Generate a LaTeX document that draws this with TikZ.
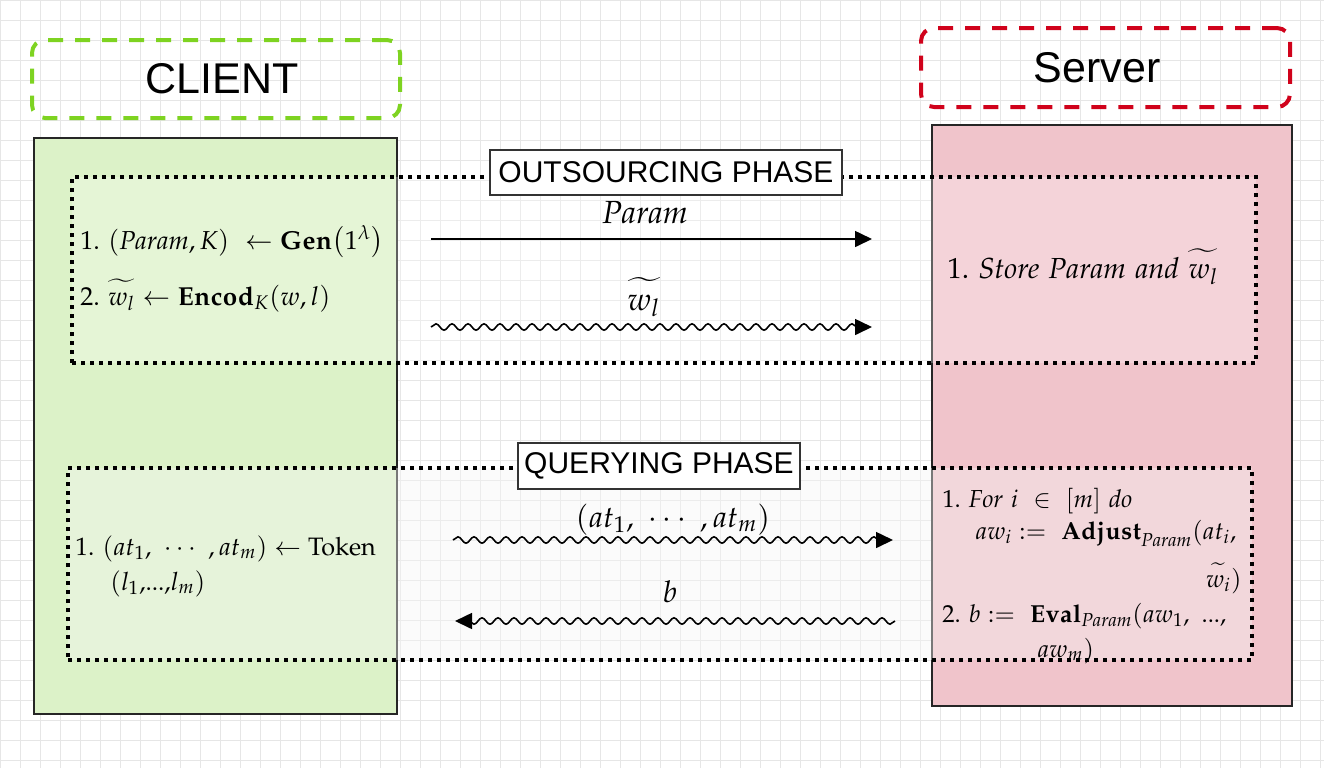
\documentclass[tikz,border=0pt]{standalone}
\usepackage{mathpazo}
\usepackage[no-math]{fontspec}
\newfontfamily\helvfont{Liberation Sans}
\usetikzlibrary{arrows.meta,decorations.pathmorphing}
\definecolor{clientgreen}{HTML}{7ED321}
\definecolor{serverred}{HTML}{D0021B}
\definecolor{clientfill}{HTML}{DCF2C8}
\definecolor{serverfill}{HTML}{F0C4CB}
\definecolor{gridgray}{HTML}{E6E6E6}
\newcommand{\wt}[1]{\widetilde{\vphantom{b}#1}}

\begin{document}
\begin{tikzpicture}[x=0.5pt,y=-0.5pt,
  gridline/.style={draw=gridgray,line width=0.5pt},
  lane/.style={draw=black!85,line width=1pt,inner sep=0},
  partybox/.style={draw,rounded corners=6.5pt,line width=2pt,dash pattern=on 7.5pt off 6pt,inner sep=0},
  partyname/.style={inner sep=0,font=\helvfont\fontsize{21.5}{24}\selectfont},
  phase/.style={draw=black,line width=1.8pt,dash pattern=on 1.8pt off 2.7pt,inner sep=0},
  phasetag/.style={draw=black!80,fill=white,line width=0.8pt,inner sep=0,font=\helvfont\fontsize{15}{17}\selectfont},
  steptext/.style={inner sep=0,anchor=base west},
  msg/.style={line width=0.8pt,-{Triangle[length=8.5pt,width=8pt]}},
  wavy/.style={msg,decorate,decoration={snake,amplitude=1.6pt,segment length=8pt,post length=5pt}}]
\newcommand{\fs}[1]{\fontsize{#1}{#1}\selectfont}
\useasboundingbox (0,0) rectangle (1324,768);
\foreach \gx in {0,20,...,1320} \draw[gridline] (\gx,0) -- (\gx,768);
\foreach \gy in {0,20,...,760} \draw[gridline] (0,\gy) -- (1324,\gy);

\node[lane,fill=clientfill,minimum width=181.5pt,minimum height=288pt] (client) at (215.5,426) {};
\node[lane,fill=serverfill,minimum width=180pt,minimum height=290.5pt] (server) at (1112,415.5) {};
\node[partybox,draw=clientgreen,minimum width=184pt,minimum height=39pt] (clienttag) at (216,79) {};
\node[partybox,draw=serverred,minimum width=184.5pt,minimum height=39.5pt] (servertag) at (1105.5,67.5) {};
\node[partyname] (clientname) at (222,79) {CLIENT};
\node[partyname] (servername) at (1097,68) {Server};

\node[phase,fill=white,fill opacity=0.27,minimum width=592pt,minimum height=93pt] (outsrc) at (664,270) {};
\node[phase,fill=black!4,fill opacity=0.4,minimum width=592pt,minimum height=96pt] (query) at (660,564) {};
\node[phasetag,minimum width=176pt,minimum height=22.5pt] (outsrctag) at (666,172.5) {OUTSOURCING PHASE};
\node[phasetag,minimum width=141pt,minimum height=23pt] (querytag) at (659,466) {QUERYING PHASE};

\node[steptext,font=\fs{13}] (gen) at (80,249) {$1.\ (\mathit{Param},K)\ \leftarrow\mathbf{Gen}\bigl(1^{\lambda}\bigr)$};
\node[steptext,font=\fs{13}] (encod) at (80,305) {$2.\ \wt{w_l}\leftarrow\mathbf{Encod}_K(w,l)$};
\node[steptext,font=\fs{14.5}] (store) at (947,278) {$1.\ \mathit{Store}\ \mathit{Param}\ \mathit{and}\ \wt{w_l}$};
\node[steptext,font=\fs{12.6}] (token) at (75,555) {$1.\ (at_1,\ \cdots\ ,at_m)\leftarrow\mathrm{Token}$};
\node[steptext,font=\fs{12.6}] (tokenargs) at (110,590) {$(l_1{,}...{,}l_m)$};
\node[steptext,font=\fs{12.3}] (forloop) at (942,507) {$1.\ \mathit{For}\ i\ \in\ [m]\ \mathit{do}$};
\node[steptext,font=\fs{12.3}] (adjust) at (975,539) {$aw_i\mathrel{:=}\ \mathbf{Adjust}_{\mathit{Param}}(at_i,$};
\node[inner sep=0,anchor=base east,font=\fs{12.3}] (adjustend) at (1242,587) {$\wt{w_i})$};
\node[steptext,font=\fs{12.3}] (eval) at (942,622) {$2.\ b\mathrel{:=}\ \mathbf{Eval}_{\mathit{Param}}(aw_1,\ ...,$};
\node[steptext,font=\fs{12.3}] (evalend) at (1037,657) {$aw_m)$};

\coordinate (p1) at (431,239);
\coordinate (p2) at (872,239);
\coordinate (w1) at (431,327);
\coordinate (w2) at (872,327);
\coordinate (q1) at (453,540);
\coordinate (q2) at (893,540);
\coordinate (r1) at (895,621);
\coordinate (r2) at (455,621);
\node[inner sep=0,anchor=base,font=\fs{16}] (paramlbl) at (645,223) {$\mathit{Param}$};
\node[inner sep=0,anchor=base,font=\fs{16}] (wlbl) at (644,310) {$\wt{w_l}$};
\node[inner sep=0,anchor=base,font=\fs{15}] (atlbl) at (673,527) {$(at_1,\ \cdots\ ,at_m)$};
\node[inner sep=0,anchor=base,font=\fs{15}] (blbl) at (670,602) {$b$};
\draw[msg] (p1) -- (p2);
\draw[wavy] (w1) -- (w2);
\draw[wavy] (q1) -- (q2);
\draw[wavy] (r1) -- (r2);
\end{tikzpicture}
\end{document}
